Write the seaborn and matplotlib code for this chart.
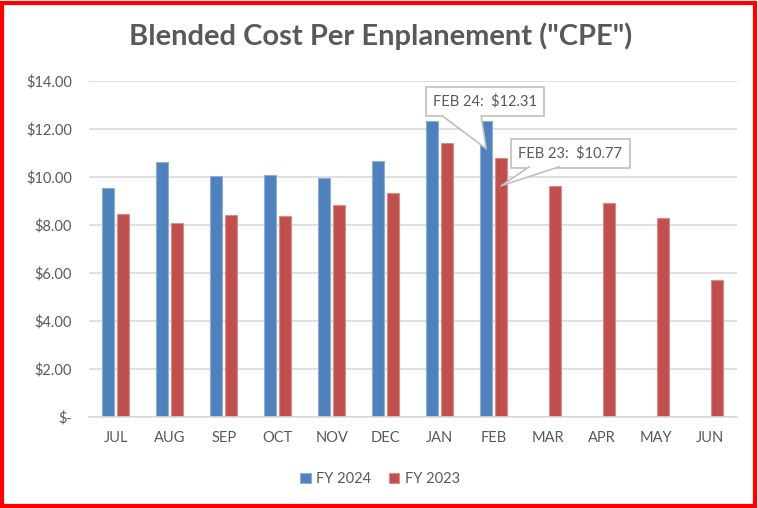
import numpy as np
import pandas as pd
import matplotlib
matplotlib.use('Agg')
import matplotlib.pyplot as plt
import matplotlib.patches as mpatches
from matplotlib.lines import Line2D
from matplotlib.transforms import ScaledTranslation
import seaborn as sns

# ─── DATA ─────────────────────────────────────────────────────────────────────

months = ['JUL', 'AUG', 'SEP', 'OCT', 'NOV', 'DEC', 'JAN', 'FEB', 'MAR', 'APR', 'MAY', 'JUN']
fy2024 = [9.54, 10.62, 10.04, 10.07, 9.97, 10.67, 12.33, 12.31, np.nan, np.nan, np.nan, np.nan]
fy2023 = [8.45, 8.07, 8.42, 8.36, 8.82, 9.32, 11.43, 10.77, 9.62, 8.93, 8.30, 5.70]
series_names = ['FY 2024', 'FY 2023']
y_ticks = [0, 2, 4, 6, 8, 10, 12, 14]

df = pd.DataFrame({
    'Month': months * 2,
    'Series': [series_names[0]] * len(months) + [series_names[1]] * len(months),
    'CPE': fy2024 + fy2023,
})

# ─── STYLE ────────────────────────────────────────────────────────────────────

sns.set_style('white')
plt.rcParams['font.family'] = ['Lato', 'DejaVu Sans']
TEXT = '#595959'
GRID = '#D9D9D9'
CALLOUT = '#BFBFBF'
palette = {'FY 2024': '#4F81BD', 'FY 2023': '#C0504D'}

fig = plt.figure(figsize=(7.58, 5.08), dpi=100)
ax = fig.add_axes([0.117, 0.179, 0.855, 0.662])

sns.barplot(data=df, x='Month', y='CPE', hue='Series', order=months,
            hue_order=series_names, palette=palette, saturation=1,
            width=0.56, gap=0.2, ax=ax, legend=True)

# thin lighter outline on each bar, like the Excel original
for bar in ax.patches:
    r, g, b, _ = bar.get_facecolor()
    bar.set_edgecolor((r + (1 - r) * 0.35, g + (1 - g) * 0.35, b + (1 - b) * 0.35))
    bar.set_linewidth(0.8)

ax.set_ylim(0, 14)
ax.set_yticks(y_ticks)
ax.set_yticklabels(['$-' if v == 0 else f'${v:.2f}' for v in y_ticks])
ax.set_xlim(-0.5, len(months) - 0.5)
ax.yaxis.grid(True, color=GRID, linewidth=1.2)
ax.set_axisbelow(True)
for s in ['top', 'right', 'left']:
    ax.spines[s].set_visible(False)
ax.spines['bottom'].set_color(GRID)
ax.spines['bottom'].set_linewidth(1.2)
ax.tick_params(axis='both', length=0, colors=TEXT, labelsize=10.5)
ax.tick_params(axis='x', pad=10)
ax.tick_params(axis='y', pad=12)
ax.set_xlabel('')
ax.set_ylabel('')

fig.suptitle('Blended Cost Per Enplanement ("CPE")', x=0.502, y=0.955,
             fontsize=21, fontweight='bold', color=TEXT)

leg = ax.legend(loc='lower center', bbox_to_anchor=(0.45, -0.245), ncol=2,
                frameon=False, fontsize=10.5, handlelength=0.7, handleheight=0.7,
                columnspacing=1.2, handletextpad=0.4)
for t in leg.get_texts():
    t.set_color(TEXT)

# ─── CALLOUTS ─────────────────────────────────────────────────────────────────

feb = months.index('FEB')
box = dict(boxstyle='square,pad=0.5', fc='white', ec=CALLOUT, lw=1.2)


def callout(label, x, y, text_off, base_left, base_right, base_up):
    """Excel-style callout: box plus a wedge pointing at (x, y) in data units.
    Offsets are in pixels at 100 dpi."""
    ax.annotate(label, xy=(x, y), xytext=(text_off[0] * 0.72, text_off[1] * 0.72),
                textcoords='offset points', ha='center', va='center',
                fontsize=10.5, color=TEXT, bbox=box, zorder=5)
    anchor = fig.dpi_scale_trans + ScaledTranslation(x, y, ax.transData)
    bl = (base_left / 100, base_up / 100)
    br = (base_right / 100, base_up / 100)
    tip = (0, 0)
    wedge = mpatches.Polygon([bl, tip, br, (br[0], br[1] + 0.015), (bl[0], bl[1] + 0.015)],
                             closed=True, fc='white', ec='none',
                             transform=anchor, zorder=6, clip_on=False)
    ax.add_patch(wedge)
    for end in (bl, br):
        ax.add_line(Line2D([end[0], tip[0]], [end[1], tip[1]], color=CALLOUT, lw=1.2,
                           transform=anchor, zorder=7, clip_on=False))


callout(f'FEB 24:  ${fy2024[feb]:.2f}', feb - 0.14, 11.17, (-1, 47.5), -44, -5, 33)
callout(f'FEB 23:  ${fy2023[feb]:.2f}', feb + 0.14, 9.63, (69, 32.5), 28, 58, 19)

# red frame around the chart
fig.patches.append(mpatches.Rectangle((0.002, 0.004), 0.994, 0.99, transform=fig.transFigure,
                                      fill=False, ec='#FF0000', lw=3))

fig.savefig('out.png', dpi=100)
